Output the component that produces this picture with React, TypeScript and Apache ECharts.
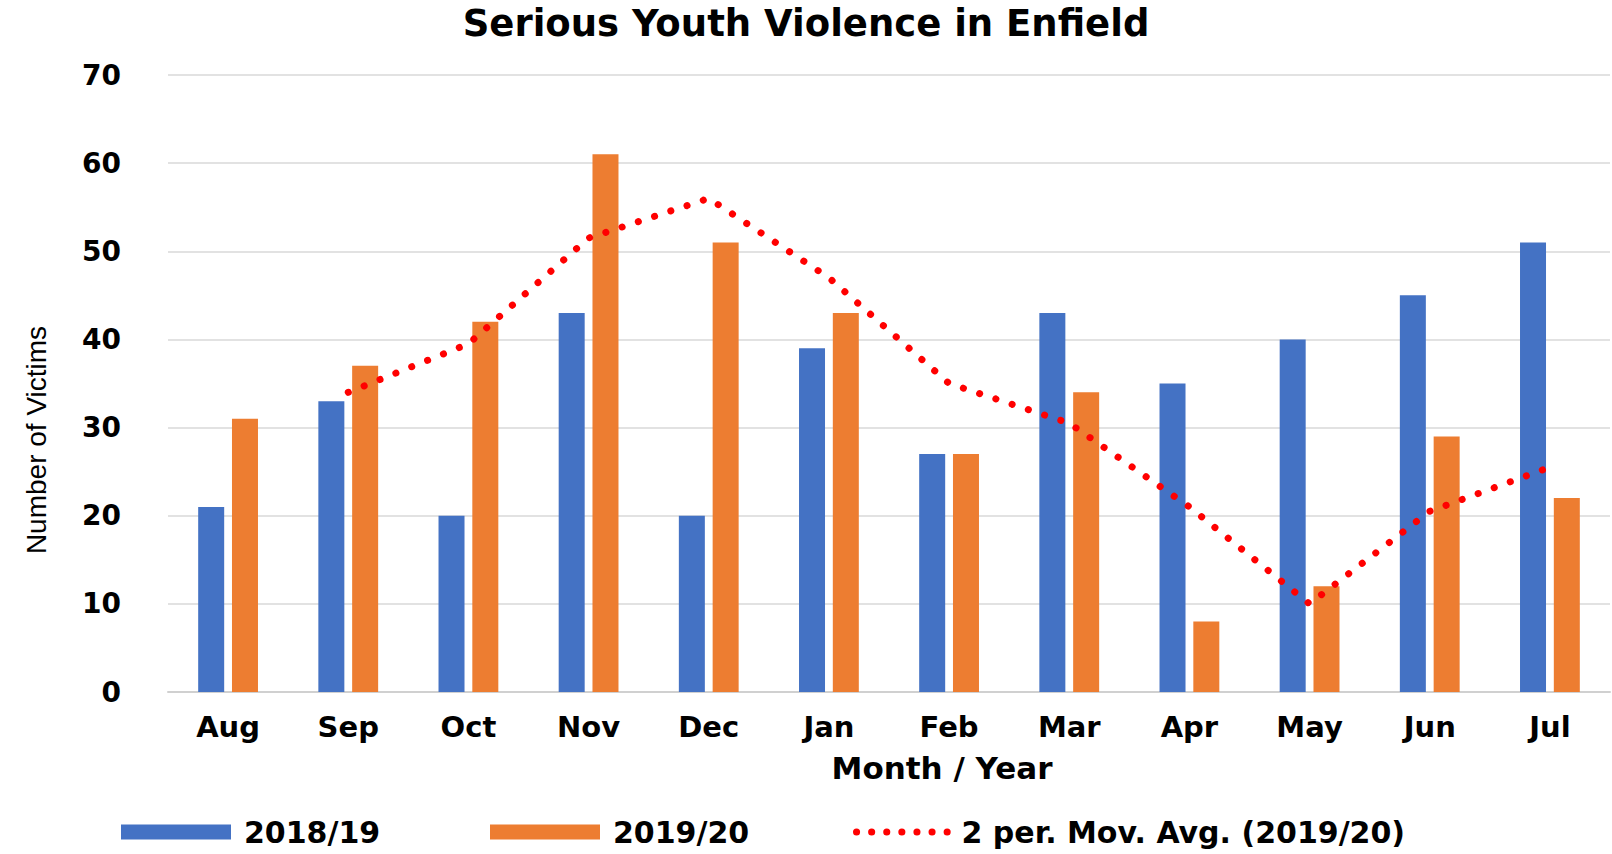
import React, { useEffect, useRef } from "react";
import * as echarts from "echarts";

const categories = ["Aug", "Sep", "Oct", "Nov", "Dec", "Jan", "Feb", "Mar", "Apr", "May", "Jun", "Jul"];
const series2018 = [21, 33, 20, 43, 20, 39, 27, 43, 35, 40, 45, 51];
const series2019 = [31, 37, 42, 61, 51, 43, 27, 34, 8, 12, 29, 22];
const movingAvg = [null, 34, 39.5, 51.5, 56, 47, 35, 30.5, 21, 10, 20.5, 25.5];
const yTicks = { min: 0, max: 70, interval: 10 };

const FONT = "DejaVu Sans";

export default function App() {
  const ref = useRef<HTMLDivElement>(null);
  useEffect(() => {
    document.body.style.margin = "0";
    const chart = echarts.init(ref.current!, null, { renderer: "svg" });
    const legendText = {
      fontSize: 30,
      fontWeight: "bold",
      fontFamily: FONT,
      color: "#000",
      padding: [0, 0, 0, 8],
    };
    chart.setOption({
      animation: false,
      backgroundColor: "#fff",
      textStyle: { fontFamily: FONT },
      title: {
        text: "Serious Youth Violence in Enfield",
        left: "center",
        top: 0,
        textStyle: { fontSize: 37, fontWeight: "bold", fontFamily: FONT, color: "#000" },
      },
      grid: { left: 168, right: 2, top: 75, bottom: 162, containLabel: false },
      xAxis: {
        type: "category",
        data: categories,
        axisTick: { show: false },
        axisLine: { show: true, lineStyle: { color: "#d0d0d0", width: 2 } },
        axisLabel: { fontSize: 29, fontWeight: "bold", fontFamily: FONT, color: "#000", margin: 20 },
      },
      yAxis: {
        type: "value",
        min: yTicks.min,
        max: yTicks.max,
        interval: yTicks.interval,
        axisLine: { show: false },
        axisTick: { show: false },
        splitLine: { lineStyle: { color: "#d9d9d9", width: 1.5 } },
        axisLabel: { fontSize: 28, fontWeight: "bold", fontFamily: FONT, color: "#000", margin: 47 },
      },
      legend: [
        {
          data: [{ name: "2018/19", icon: "rect" }],
          left: 116,
          top: 812,
          itemWidth: 110,
          itemHeight: 15,
          itemGap: 0,
          textStyle: legendText,
        },
        {
          data: [{ name: "2019/20", icon: "rect" }],
          left: 485,
          top: 812,
          itemWidth: 110,
          itemHeight: 15,
          textStyle: legendText,
        },
        {
          data: [{ name: "2 per. Mov. Avg. (2019/20)", itemStyle: { opacity: 0 } }],
          left: 848,
          top: 812,
          itemWidth: 92,
          itemHeight: 15,
          lineStyle: { color: "#FF0000", width: 7, type: [0.1, 15], cap: "round" },
          textStyle: legendText,
        },
      ],
      graphic: [
        {
          type: "text",
          x: 942,
          y: 768,
          style: {
            text: "Month / Year",
            fontSize: 31,
            fontWeight: "bold",
            fontFamily: FONT,
            fill: "#000",
            align: "center",
            verticalAlign: "middle",
          },
        },
        {
          type: "text",
          x: 36,
          y: 440,
          rotation: Math.PI / 2,
          style: {
            text: "Number of Victims",
            fontSize: 28,
            fontFamily: "Liberation Sans Narrow, Liberation Sans",
            fill: "#000",
            align: "center",
            verticalAlign: "middle",
          },
        },
      ],
      series: [
        {
          name: "2018/19",
          type: "bar",
          data: series2018,
          barWidth: 26,
          barGap: "30%",
          itemStyle: { color: "#4472C4" },
        },
        {
          name: "2019/20",
          type: "bar",
          data: series2019,
          barWidth: 26,
          itemStyle: { color: "#ED7D31" },
        },
        {
          name: "2 per. Mov. Avg. (2019/20)",
          type: "line",
          data: movingAvg,
          symbol: "none",
          showSymbol: false,
          connectNulls: false,
          itemStyle: { color: "#FF0000" },
          lineStyle: { color: "#FF0000", width: 7, type: [0.1, 17], cap: "round" },
          z: 5,
        },
      ],
    });
    return () => chart.dispose();
  }, []);
  return <div ref={ref} style={{ width: 1612, height: 854 }} />;
}
